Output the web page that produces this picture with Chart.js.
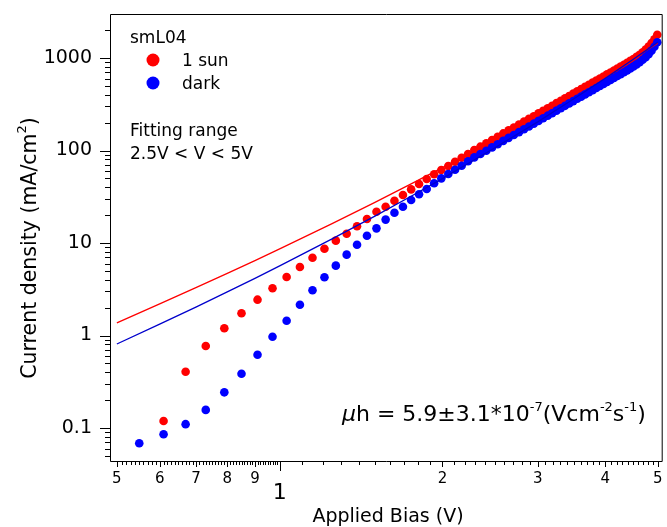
<!DOCTYPE html>
<html lang="en">
<head>
<meta charset="UTF-8">
<title>smL04 J-V</title>
<script src="https://cdn.jsdelivr.net/npm/chart.js"></script>
<style>
  html, body { margin: 0; padding: 0; background: #fff; }
  canvas { display: block; }
</style>
</head>
<body>
<canvas id="jv" width="667" height="527"></canvas>
<script>
// applied bias (V), shared by both measured curves
const bias = [0.55, 0.61, 0.67, 0.73, 0.79, 0.85, 0.91, 0.97, 1.03, 1.09,
  1.15, 1.21, 1.27, 1.33, 1.39, 1.45, 1.51, 1.57, 1.63, 1.69,
  1.75, 1.81, 1.87, 1.93, 1.99, 2.05, 2.11, 2.17, 2.23, 2.29,
  2.35, 2.41, 2.47, 2.53, 2.59, 2.65, 2.71, 2.77, 2.83, 2.89,
  2.95, 3.01, 3.07, 3.13, 3.19, 3.25, 3.31, 3.37, 3.43, 3.49,
  3.55, 3.61, 3.67, 3.73, 3.79, 3.85, 3.91, 3.97, 4.03, 4.09,
  4.15, 4.21, 4.27, 4.33, 4.39, 4.45, 4.51, 4.57, 4.63, 4.69,
  4.75, 4.81, 4.87, 4.93, 4.99];

// current density (mA/cm2) under 1 sun
const sun = [null, 0.119, 0.406, 0.769, 1.20, 1.74, 2.44, 3.24, 4.29, 5.50,
  6.94, 8.68, 10.6, 12.6, 15.2, 18.2, 21.8, 24.7, 28.6, 33.0,
  38.0, 43.4, 49.2, 55.3, 61.5, 68.0, 75.6, 83.6, 91.6, 101,
  110, 120, 130, 141, 153, 165, 177, 191, 205, 220,
  235, 252, 269, 286, 305, 325, 345, 366, 389, 412,
  436, 461, 487, 514, 542, 571, 601, 632, 665, 698,
  733, 769, 806, 844, 885, 930, 977, 1028, 1086, 1153,
  1231, 1327, 1447, 1596, 1781];

// current density (mA/cm2) in the dark
const dark = [0.0684, 0.0855, 0.110, 0.157, 0.243, 0.386, 0.620, 0.970, 1.445, 2.15,
  3.08, 4.26, 5.69, 7.48, 9.59, 12.0, 14.4, 17.9, 21.2, 24.7,
  29.2, 33.6, 38.4, 44.2, 50.0, 55.7, 62.0, 68.5, 76.4, 84.3,
  91.5, 99.5, 108, 117, 127, 137, 147, 158, 170, 182,
  195, 209, 223, 238, 253, 270, 286, 304, 323, 342,
  362, 382, 404, 426, 449, 474, 499, 525, 552, 579,
  608, 638, 669, 701, 735, 772, 811, 853, 901, 957,
  1022, 1101, 1201, 1325, 1478];

// SCLC fits (2.5 V < V < 5 V)
const fitBias = [0.5, 0.6, 0.7, 0.8, 0.9, 1.0, 1.25, 1.5, 1.75, 2.0, 2.5, 3.0, 3.5, 4.0, 4.5, 5.0];
const fitSun = [1.37, 2.20, 3.29, 4.70, 6.46, 8.63, 16.2, 27.5, 43.5, 65.3, 132, 240, 404, 645, 983, 1449];
const fitDark = [0.81, 1.33, 2.03, 2.96, 4.15, 5.65, 11.1, 19.5, 32.0, 49.6, 107, 204, 362, 604, 963, 1478];

const xTicks = [0.5, 0.6, 0.7, 0.8, 0.9, 1, 2, 3, 4, 5];
const xTickLabels = ['5', '6', '7', '8', '9', '1', '2', '3', '4', '5'];
const yTicks = [0.1, 1, 10, 100, 1000];
const yTickLabels = ['0.1', '1', '10', '100', '1000'];

const FONT = '"DejaVu Sans", Verdana, sans-serif';
const RED = '#ff0000';
const BLUE = '#0000ff';

const pts = (xs, ys) => xs.map((x, i) => ({ x: x, y: ys[i] }));

// minor tick positions
const xMinor = [];
for (let i = 51; i < 100; i++) if (i % 10) xMinor.push(i / 100);
for (let i = 11; i < 50; i++) if (i % 10) xMinor.push(i / 10);
const yMinor = [];
for (let d = 0.01; d < 5000; d *= 10) {
  for (let m = 2; m <= 9; m++) yMinor.push(m * d);
}

// scales must not reserve room for overhanging labels
function noPadding(s) {
  s.paddingTop = 0;
  s.paddingBottom = 0;
  s.paddingLeft = 0;
  s.paddingRight = 0;
}

function drawRich(ctx, parts, x, y) {
  for (const p of parts) {
    ctx.font = (p.italic ? 'italic ' : '') + p.size + 'px ' + FONT;
    ctx.fillText(p.text, x, y - (p.raise || 0));
    x += ctx.measureText(p.text).width;
  }
  return x;
}

function richWidth(ctx, parts) {
  let w = 0;
  for (const p of parts) {
    ctx.font = (p.italic ? 'italic ' : '') + p.size + 'px ' + FONT;
    w += ctx.measureText(p.text).width;
  }
  return w;
}

// frame, tick marks and the text inside the plot
const decorations = {
  id: 'decorations',
  afterDraw(chart) {
    const { ctx, chartArea: a, scales: { x, y } } = chart;
    ctx.save();
    ctx.strokeStyle = '#000';
    ctx.lineWidth = 1;
    ctx.beginPath();
    ctx.rect(a.left + 0.5, a.top + 0.5, a.right - a.left - 1, a.bottom - a.top - 1);

    const yt = (v, len) => {
      if (v < y.min || v > y.max) return;
      const p = Math.round(y.getPixelForValue(v)) + 0.5;
      ctx.moveTo(a.left, p);
      ctx.lineTo(a.left - len, p);
    };
    yTicks.forEach(v => yt(v, 10));
    yMinor.forEach(v => yt(v, 5));

    const xt = (v, len) => {
      if (v < x.min || v > x.max) return;
      const p = Math.round(x.getPixelForValue(v)) + 0.5;
      ctx.moveTo(p, a.bottom);
      ctx.lineTo(p, a.bottom + len);
    };
    xTicks.forEach(v => xt(v, v === 1 ? 9 : 5));
    xMinor.forEach(v => xt(v, 3));
    ctx.stroke();

    ctx.fillStyle = '#000';
    ctx.textBaseline = 'alphabetic';
    ctx.textAlign = 'left';

    // legend
    ctx.font = '17px ' + FONT;
    ctx.fillText('smL04', 130, 43);
    ctx.fillText('1 sun', 182, 66);
    ctx.fillText('dark', 182, 89);
    ctx.fillStyle = RED;
    ctx.beginPath(); ctx.arc(153, 60, 6.5, 0, Math.PI * 2); ctx.fill();
    ctx.fillStyle = BLUE;
    ctx.beginPath(); ctx.arc(153, 83, 6.5, 0, Math.PI * 2); ctx.fill();

    ctx.fillStyle = '#000';
    ctx.fillText('Fitting range', 130, 136);
    ctx.fillText('2.5V < V < 5V', 130, 159);

    // mobility annotation
    drawRich(ctx, [
      { text: '\u03bc', size: 22, italic: true },
      { text: 'h = 5.9\u00b13.1*10', size: 22 },
      { text: '-7', size: 13, raise: 10 },
      { text: '(Vcm', size: 22 },
      { text: '-2', size: 13, raise: 10 },
      { text: 's', size: 22 },
      { text: '-1', size: 13, raise: 10 },
      { text: ')', size: 22 }
    ], 342, 421);

    // axis titles
    ctx.font = '19px ' + FONT;
    ctx.textAlign = 'center';
    ctx.fillText('Applied Bias (V)', 388, 522);

    const title = [
      { text: 'Current density (mA/cm', size: 20.5 },
      { text: '2', size: 13, raise: 10 },
      { text: ')', size: 20.5 }
    ];
    ctx.translate(36, 248);
    ctx.rotate(-Math.PI / 2);
    ctx.textAlign = 'left';
    drawRich(ctx, title, -richWidth(ctx, title) / 2, 0);
    ctx.restore();
  }
};

new Chart(document.getElementById('jv'), {
  type: 'scatter',
  data: {
    datasets: [
      {
        label: 'dark fit', data: pts(fitBias, fitDark), showLine: true,
        borderColor: '#0000cc', borderWidth: 1.3, pointRadius: 0, fill: false
      },
      {
        label: '1 sun fit', data: pts(fitBias, fitSun), showLine: true,
        borderColor: RED, borderWidth: 1.3, pointRadius: 0, fill: false
      },
      {
        label: 'dark', data: pts(bias, dark),
        backgroundColor: BLUE, borderWidth: 0, pointRadius: 4.3
      },
      {
        label: '1 sun', data: pts(bias, sun),
        backgroundColor: RED, borderWidth: 0, pointRadius: 4.3
      }
    ]
  },
  options: {
    responsive: false,
    animation: false,
    layout: { padding: { top: 14, right: 1, left: 0, bottom: 0 } },
    plugins: { legend: { display: false }, tooltip: { enabled: false } },
    scales: {
      x: {
        type: 'logarithmic',
        min: 0.4856,
        max: 5.107,
        afterFit: s => { s.height = 65; noPadding(s); },
        afterBuildTicks: s => { s.ticks = xTicks.map(v => ({ value: v })); },
        grid: { display: false, drawTicks: false },
        border: { display: false },
        ticks: {
          autoSkip: false,
          maxRotation: 0,
          padding: 8,
          color: '#000',
          callback: (v, i) => i === 5 ? ['', xTickLabels[i]] : xTickLabels[i],
          font: c => c.index === 5
            ? { family: FONT, size: 22, lineHeight: 0.7 }
            : { family: FONT, size: 15 }
        }
      },
      y: {
        type: 'logarithmic',
        min: 0.0429,
        max: 2990,
        afterFit: s => { s.width = 110; noPadding(s); },
        afterBuildTicks: s => { s.ticks = yTicks.map(v => ({ value: v })); },
        grid: { display: false, drawTicks: false },
        border: { display: false },
        ticks: {
          autoSkip: false,
          padding: 18,
          color: '#000',
          callback: (v, i) => yTickLabels[i],
          font: { family: FONT, size: 19 }
        }
      }
    }
  },
  plugins: [decorations]
});
</script>
</body>
</html>
